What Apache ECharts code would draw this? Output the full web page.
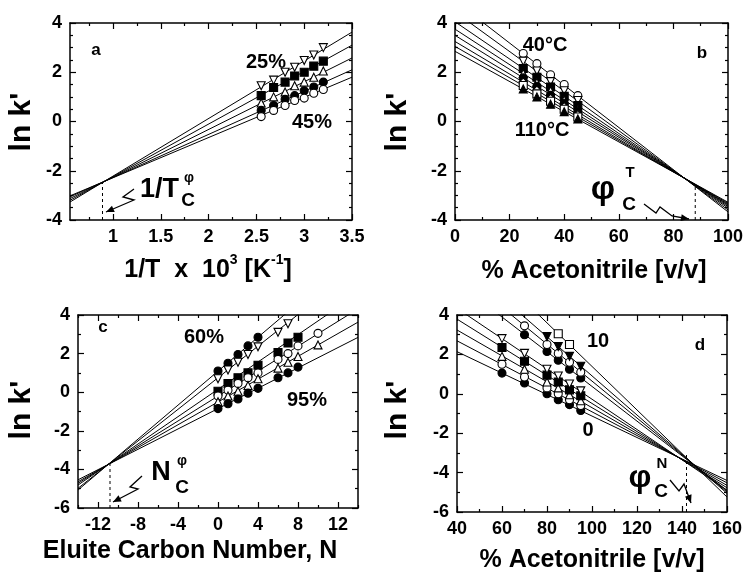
<!DOCTYPE html>
<html><head><meta charset="utf-8">
<script src="https://cdn.jsdelivr.net/npm/echarts@6/dist/echarts.min.js"></script>
<style>html,body{margin:0;padding:0;background:#fff}#c{width:749px;height:578px}</style>
</head><body><div id="c"></div><script>
// ---------- Panel a: ln k' vs 1/T x 10^3 (5 acetonitrile levels) ----------
const aInvT = [2.55, 2.68, 2.8, 2.9, 3.0, 3.1, 3.2];
const aAcn25 = [1.45, 1.68, 2.0, 2.2, 2.48, 2.7, 3.0];
const aAcn30 = [1.05, 1.38, 1.6, 1.85, 2.0, 2.25, 2.45];
const aAcn35 = [0.75, 1.0, 1.2, 1.45, 1.6, 1.8, 2.05];
const aAcn40 = [0.45, 0.65, 0.9, 1.05, 1.25, 1.4, 1.6];
const aAcn45 = [0.2, 0.45, 0.65, 0.85, 0.95, 1.15, 1.3];
const aFitX = [0.55, 3.5];
const aFit25 = [-3.27, 3.63];
const aFit30 = [-3.20, 3.10];
const aFit35 = [-3.13, 2.58];
const aFit40 = [-3.06, 2.10];
const aFit45 = [-3.02, 1.80];
const aCrit = [0.89, -2.5];
const aXTicks = [1, 1.5, 2, 2.5, 3, 3.5];
const aYTicks = [-4, -2, 0, 2, 4];

// ---------- Panel b: ln k' vs % acetonitrile (8 temperatures) ----------
const bAcn = [25, 30, 35, 40, 45];
const bT40 = [2.76, 2.35, 1.9, 1.5, 1.05];
const bT50 = [2.45, 2.05, 1.62, 1.25, 0.85];
const bT60 = [2.15, 1.8, 1.4, 1.02, 0.65];
const bT70 = [1.95, 1.58, 1.25, 0.87, 0.5];
const bT80 = [1.77, 1.43, 1.06, 0.74, 0.42];
const bT90 = [1.6, 1.27, 0.94, 0.6, 0.28];
const bT100 = [1.46, 1.12, 0.82, 0.5, 0.18];
const bT110 = [1.32, 1.0, 0.7, 0.4, 0.1];
const bFitX = [0, 100];
const bFit40 = [4.9, -3.67];
const bFit50 = [4.45, -3.59];
const bFit60 = [4.05, -3.51];
const bFit70 = [3.75, -3.45];
const bFit80 = [3.5, -3.40];
const bFit90 = [3.25, -3.36];
const bFit100 = [3.05, -3.32];
const bFit110 = [2.85, -3.28];
const bCrit = [88, -2.6];
const bXTicks = [0, 20, 40, 60, 80, 100];
const bYTicks = [-4, -2, 0, 2, 4];

// ---------- Panel c: ln k' vs eluite carbon number (6 acetonitrile levels) ----------
const cN = [0, 1, 2, 3, 4, 6, 7, 8, 10];
const cAcn60 = [1.1, 1.5, 1.95, 2.4, 2.85, null, null, null, null];
const cAcn70 = [0.7, 1.15, 1.55, 1.95, 2.35, 3.1, 3.55, null, null];
const cAcn80 = [0.05, 0.45, 0.75, 1.0, 1.4, 2.05, 2.55, 2.85, null];
const cAcn85 = [-0.2, 0.1, 0.45, 0.75, 1.0, 1.7, 2.0, 2.4, 3.05];
const cAcn90 = [-0.5, -0.2, 0.05, 0.35, 0.7, 1.25, 1.55, 1.85, 2.45];
const cAcn95 = [-0.85, -0.6, -0.35, -0.05, 0.2, 0.75, 1.0, 1.3, null];
const cFitX = [-14, 14];
const cFit60 = [-5.07, 7.25];
const cFit70 = [-4.98, 6.48];
const cFit80 = [-4.81, 5.11];
const cFit85 = [-4.72, 4.32];
const cFit90 = [-4.64, 3.63];
const cFit95 = [-4.54, 2.84];
const cCrit = [-10.8, -3.7];
const cXTicks = [-12, -8, -4, 0, 4, 8, 12];
const cYTicks = [-6, -4, -2, 0, 2, 4];

// ---------- Panel d: ln k' vs % acetonitrile (eluite carbon numbers) ----------
const dAcn = [60, 70, 80, 85, 90, 95];
const dN0 = [1.05, 0.55, 0.0, -0.3, -0.55, -0.85];
const dN1 = [1.5, 0.85, 0.3, 0.0, -0.3, -0.6];
const dN2 = [1.9, 1.25, 0.6, 0.3, -0.05, -0.35];
const dN3 = [2.35, 1.65, 0.95, 0.6, 0.2, -0.1];
const dN4 = [2.8, 2.05, 1.25, 0.9, 0.5, 0.15];
const dN6 = [null, 3.0, 2.15, 1.7, 1.25, 0.8];
const dN7 = [null, 3.45, 2.5, 2.05, 1.6, 1.1];
const dN8 = [null, null, 2.9, 2.4, 1.9, 1.4];
const dN10 = [null, null, null, 3.05, 2.5, null];
const dFitX = [40, 160];
const dFit0 = [2.14, -4.40];
const dFit1 = [2.69, -4.52];
const dFit2 = [3.24, -4.65];
const dFit3 = [3.79, -4.77];
const dFit4 = [4.34, -4.89];
const dFit6 = [5.66, -4.91];
const dFit7 = [6.27, -4.98];
const dFit8 = [6.87, -5.05];
const dFit10 = [8.02, -5.24];
const dCrit = [142, -3.0];
const dXTicks = [40, 60, 80, 100, 120, 140, 160];
const dYTicks = [-6, -4, -2, 0, 2, 4];

// ---------- rendering ----------
const FONT = '"Liberation Sans", Arial, Helvetica, sans-serif';
const INV_TRI = 'path://M0,0L10,0L5,9Z';
const M = {
  oc: {symbol: 'circle', fill: '#fff'}, fc: {symbol: 'circle', fill: '#000'},
  os: {symbol: 'rect', fill: '#fff'}, fs: {symbol: 'rect', fill: '#000'},
  ot: {symbol: 'triangle', fill: '#fff'}, ft: {symbol: 'triangle', fill: '#000'},
  ov: {symbol: INV_TRI, fill: '#fff'}, fv: {symbol: INV_TRI, fill: '#000'},
  od: {symbol: 'diamond', fill: '#fff'}
};

const grids = [
  {left: 70, top: 23, width: 282, height: 197},
  {left: 455, top: 23, width: 273, height: 197},
  {left: 78, top: 315, width: 280, height: 193},
  {left: 457, top: 315, width: 270, height: 197}
];
const xAxes = [], yAxes = [], series = [];

function between(lo, hi, step, skip) {
  const out = [];
  for (let v = lo; v <= hi + 1e-9; v += step) {
    const r = Math.round(v * 1000) / 1000;
    if (!skip.some(s => Math.abs(s - r) < 1e-6)) out.push(r);
  }
  return out;
}
function buildAxes(gi, dim, min, max, major, minor) {
  const list = dim === 'x' ? xAxes : yAxes;
  const [p1, p2] = dim === 'x' ? ['bottom', 'top'] : ['left', 'right'];
  const base = list.length;
  const mk = (pos, vals, len, line, label) => ({
    type: 'value', gridIndex: gi, position: pos, min: min, max: max,
    axisLine: {show: line, onZero: false, lineStyle: {color: '#000', width: 1.5}},
    axisTick: {show: true, inside: true, length: len, customValues: vals, lineStyle: {color: '#000', width: 1.2}},
    axisLabel: {show: label, customValues: vals, color: '#000', fontFamily: FONT, fontWeight: 'bold',
      fontSize: 18, margin: dim === 'x' ? 8 : 8, formatter: v => String(v)},
    splitLine: {show: false}
  });
  list.push(mk(p1, major, 6, true, true));
  list.push(mk(p1, minor, 3, false, false));
  list.push(mk(p2, major, 6, true, false));
  list.push(mk(p2, minor, 3, false, false));
  return base;
}
function addPanel(gi, xa, ya, fitX, fits, xs, ys, marks, crit, yMin) {
  fits.forEach(f => series.push({
    type: 'line', xAxisIndex: xa, yAxisIndex: ya, data: [[fitX[0], f[0]], [fitX[1], f[1]]],
    symbol: 'none', clip: true, silent: true, lineStyle: {color: '#000', width: 1}, z: 2
  }));
  series.push({
    type: 'line', xAxisIndex: xa, yAxisIndex: ya, data: [[crit[0], yMin], [crit[0], crit[1]]],
    symbol: 'none', silent: true, lineStyle: {color: '#000', width: 1, type: [3, 3]}, z: 2
  });
  ys.forEach((arr, k) => {
    const m = M[marks[k]];
    series.push({
      type: 'scatter', xAxisIndex: xa, yAxisIndex: ya,
      data: xs.map((x, i) => [x, arr[i]]).filter(d => d[1] !== null),
      symbol: m.symbol, symbolSize: 8, silent: true,
      itemStyle: {color: m.fill, borderColor: '#000', borderWidth: 1.1, opacity: 1}, z: 3
    });
  });
}

// panel a
let xa = buildAxes(0, 'x', 0.55, 3.5, aXTicks, between(0.75, 3.25, 0.25, aXTicks));
let ya = buildAxes(0, 'y', -4, 4, aYTicks, between(-3.5, 3.5, 0.5, aYTicks));
addPanel(0, xa, ya, aFitX, [aFit25, aFit30, aFit35, aFit40, aFit45], aInvT,
  [aAcn25, aAcn30, aAcn35, aAcn40, aAcn45], ['ov', 'fs', 'ot', 'fc', 'oc'], aCrit, -4);
// panel b
xa = buildAxes(1, 'x', 0, 100, bXTicks, between(10, 90, 10, bXTicks));
ya = buildAxes(1, 'y', -4, 4, bYTicks, between(-3.5, 3.5, 0.5, bYTicks));
addPanel(1, xa, ya, bFitX, [bFit40, bFit50, bFit60, bFit70, bFit80, bFit90, bFit100, bFit110], bAcn,
  [bT40, bT50, bT60, bT70, bT80, bT90, bT100, bT110], ['oc', 'ov', 'fs', 'ot', 'fc', 'od', 'os', 'ft'], bCrit, -4);
// panel c
xa = buildAxes(2, 'x', -14, 14, cXTicks, between(-14, 14, 2, cXTicks));
ya = buildAxes(2, 'y', -6, 4, cYTicks, between(-5, 3, 1, cYTicks));
addPanel(2, xa, ya, cFitX, [cFit60, cFit70, cFit80, cFit85, cFit90, cFit95], cN,
  [cAcn60, cAcn70, cAcn80, cAcn85, cAcn90, cAcn95], ['fc', 'ov', 'fs', 'oc', 'ot', 'fc'], cCrit, -6);
// panel d
xa = buildAxes(3, 'x', 40, 160, dXTicks, between(50, 150, 10, dXTicks));
ya = buildAxes(3, 'y', -6, 4, dYTicks, between(-5, 3, 1, dYTicks));
addPanel(3, xa, ya, dFitX, [dFit0, dFit1, dFit2, dFit3, dFit4, dFit6, dFit7, dFit8, dFit10], dAcn,
  [dN0, dN1, dN2, dN3, dN4, dN6, dN7, dN8, dN10], ['fc', 'oc', 'ot', 'fs', 'ov', 'fc', 'oc', 'fv', 'os'], dCrit, -6);

// ---------- annotations ----------
const g = [];
function txt(x, y, text, size, opts) {
  opts = opts || {};
  g.push({type: 'text', x: x, y: y, rotation: opts.rot || 0, z: 50, silent: true,
    style: {text: text, fill: '#000', fontFamily: FONT, fontWeight: opts.weight || 'bold', fontSize: size,
      align: opts.align || 'center', verticalAlign: 'middle'}});
}
function richTxt(x, y, text, size, supSize) {
  g.push({type: 'text', x: x, y: y, z: 50, silent: true,
    style: {text: text, align: 'center', verticalAlign: 'middle', fill: '#000',
      rich: {
        m: {fontFamily: FONT, fontWeight: 'bold', fontSize: size, lineHeight: size + 4, verticalAlign: 'bottom', fill: '#000'},
        s: {fontFamily: FONT, fontWeight: 'bold', fontSize: supSize, lineHeight: supSize + 2, verticalAlign: 'top', fill: '#000'}
      }}});
}
function arrow(pts) {
  g.push({type: 'polyline', z: 50, silent: true, shape: {points: pts},
    style: {stroke: '#000', fill: null, lineWidth: 1.3}});
  const [x1, y1] = pts[pts.length - 2], [x2, y2] = pts[pts.length - 1];
  const ang = Math.atan2(y2 - y1, x2 - x1), L = 8, W = 3.5;
  const bx = x2 - L * Math.cos(ang), by = y2 - L * Math.sin(ang);
  g.push({type: 'polygon', z: 50, silent: true, shape: {points: [[x2, y2],
    [bx - W * Math.sin(ang), by + W * Math.cos(ang)], [bx + W * Math.sin(ang), by - W * Math.cos(ang)]]},
    style: {fill: '#000'}});
}
// y-axis titles
[[22, 122], [398, 122], [22, 410], [398, 410]].forEach(p => txt(p[0], p[1], "ln k'", 30, {rot: Math.PI / 2}));
// x-axis titles
richTxt(208, 268, '{m|1/T  x  10}{s|3}{m| [K}{s|-1}{m|]}', 25, 14);
txt(594, 271, '% Acetonitrile [v/v]', 25);
txt(190, 551, 'Eluite Carbon Number, N', 25);
txt(592, 560, '% Acetonitrile [v/v]', 25);
// panel letters
txt(96, 50, 'a', 17); txt(702, 53, 'b', 17); txt(103, 327, 'c', 17); txt(700, 345, 'd', 17);
// series labels
txt(266, 62, '25%', 20); txt(312, 122, '45%', 20);
txt(545, 45, '40°C', 20); txt(542, 130, '110°C', 20);
txt(204, 337, '60%', 20); txt(307, 400, '95%', 20);
txt(598, 341, '10', 20); txt(588, 430, '0', 20);
// critical-point labels
txt(140, 190, '1/T', 27, {align: 'left'}); txt(188, 201, 'C', 19); txt(189, 178, 'φ', 14);
arrow([[134, 189], [123, 197], [134, 200], [106, 212]]);
txt(603, 190, 'φ', 34); txt(629, 205, 'C', 19); txt(630, 173, 'T', 15);
arrow([[644, 204], [656, 213], [660, 207], [672, 216], [689, 219]]);
txt(161, 473, 'N', 27); txt(182, 488, 'C', 19); txt(182, 461, 'φ', 14);
arrow([[142, 476], [130, 487], [138, 489], [113, 502]]);
txt(640, 478, 'φ', 32); txt(661, 492, 'C', 19); txt(662, 464, 'N', 15);
arrow([[670, 480], [679, 491], [684, 484], [691, 503]]);

const chart = echarts.init(document.getElementById('c'), null, {renderer: 'canvas', width: 749, height: 578});
chart.setOption({
  animation: false,
  backgroundColor: '#fff',
  grid: grids,
  xAxis: xAxes,
  yAxis: yAxes,
  series: series,
  graphic: g
});
</script></body></html>
